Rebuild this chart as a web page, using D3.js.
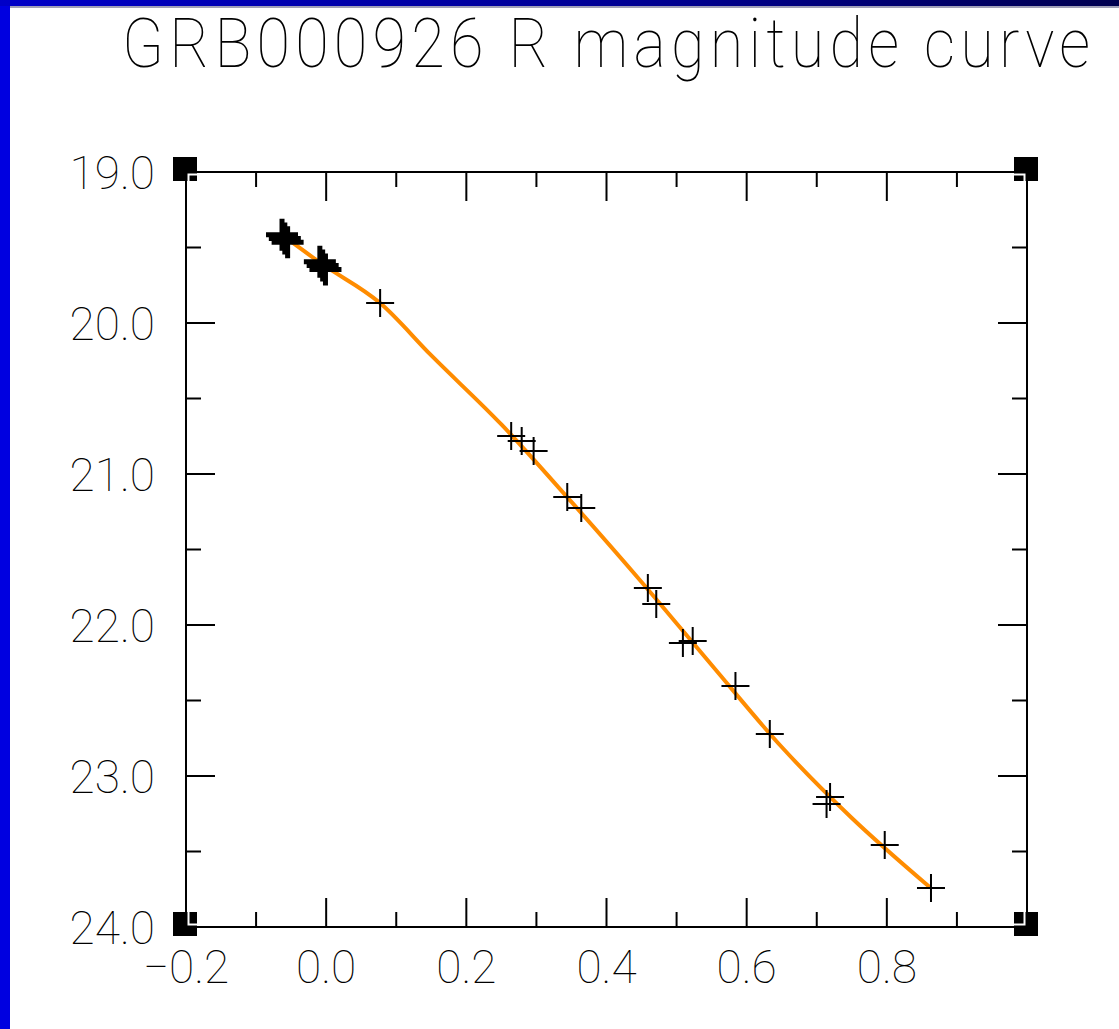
<!DOCTYPE html>
<html>
<head>
<meta charset="utf-8">
<script src="https://cdn.jsdelivr.net/npm/d3@7"></script>
<style>
  html, body { margin: 0; padding: 0; background: #ffffff; }
  svg { display: block; }
</style>
</head>
<body>
<svg id="chart" width="1119" height="1029"></svg>
<script>
// ---- data ----
const title = "GRB000926 R magnitude curve";
const xTickValues = [-0.2, 0.0, 0.2, 0.4, 0.6, 0.8, 1.0];
const xTickLabels = ["\u22120.2", "0.0", "0.2", "0.4", "0.6", "0.8", ""];
const xMinorValues = [-0.1, 0.1, 0.3, 0.5, 0.7, 0.9];
const yTickValues = [19, 20, 21, 22, 23, 24];
const yTickLabels = ["19.0", "20.0", "21.0", "22.0", "23.0", "24.0"];
const yMinorValues = [19.5, 20.5, 21.5, 22.5, 23.5];

// early, heavily overplotted observations (log time, R magnitude)
const earlyX = [-0.063, -0.059, -0.055,
                -0.009, -0.005, -0.001];
const earlyMag = [19.415, 19.440, 19.465,
                  19.595, 19.620, 19.645];
// later observations
const obsX = [0.077, 0.264, 0.279, 0.296, 0.344, 0.364,
              0.459, 0.471, 0.509, 0.523, 0.584, 0.633,
              0.719, 0.714, 0.797, 0.863];
const obsMag = [19.868, 20.748, 20.781, 20.848, 21.152, 21.225,
                21.755, 21.861, 22.119, 22.106, 22.404, 22.722,
                23.139, 23.185, 23.457, 23.742];

// fitted curve
const fitX = [-0.063, -0.006, 0.077, 0.15, 0.25, 0.35, 0.45, 0.55, 0.65, 0.75, 0.861];
const fitMag = [19.417, 19.609, 19.868, 20.215, 20.672, 21.185, 21.715, 22.265, 22.808, 23.278, 23.735];

// ---- layout ----
const svg = d3.select("#chart");
const L = 186, R = 1027, T = 172, B = 927;
const x = d3.scaleLinear().domain([-0.2, 1.0]).range([L, R]);
const y = d3.scaleLinear().domain([19, 24]).range([T, B]);

// slide decorations
const defs = svg.append("defs");
const grad = defs.append("linearGradient").attr("id", "topbar").attr("x1", "0").attr("x2", "1");
grad.append("stop").attr("offset", "0").attr("stop-color", "#0000c8");
grad.append("stop").attr("offset", "0.6").attr("stop-color", "#000090");
grad.append("stop").attr("offset", "1").attr("stop-color", "#000050");
svg.append("rect").attr("x", 0).attr("y", 0).attr("width", 10).attr("height", 1029).attr("fill", "#0000e0");
svg.append("rect").attr("x", 0).attr("y", 0).attr("width", 1119).attr("height", 6).attr("fill", "url(#topbar)");
svg.append("rect").attr("x", 10).attr("y", 6).attr("width", 1109).attr("height", 2).attr("fill", "#a0a0b8");

const font = "Roboto, 'DejaVu Sans', sans-serif";
const W = 100;

// title
const sx = 0.9;
svg.append("g").attr("transform", `translate(122,67) scale(${sx},1)`)
  .append("text")
  .attr("x", 0).attr("y", 0)
  .attr("textLength", 968 / sx).attr("lengthAdjust", "spacing")
  .attr("font-family", font).attr("font-weight", W).attr("font-size", 68)
  .attr("fill", "#000").text(title);

// corner squares
const corners = [[-0.2, 19], [1.0, 19], [-0.2, 24], [1.0, 24]];
svg.selectAll("rect.corner").data(corners).enter().append("rect")
  .attr("class", "corner")
  .attr("x", d => x(d[0]) - 13).attr("y", d => y(d[1]) - 15)
  .attr("width", 24).attr("height", 24).attr("fill", "#000");

// white inset line inside frame
svg.append("rect").attr("x", L + 2.5).attr("y", T + 2.5)
  .attr("width", R - L - 5).attr("height", B - T - 5)
  .attr("fill", "none").attr("stroke", "#fff").attr("stroke-width", 2);

// inward ticks on all four sides
const MAJ = 29, MIN = 15;
const ticks = svg.append("g").attr("stroke", "#000").attr("stroke-width", 2);
function xTicks(vals, len) {
  vals.forEach(v => {
    ticks.append("line").attr("x1", x(v)).attr("x2", x(v)).attr("y1", B).attr("y2", B - len);
    ticks.append("line").attr("x1", x(v)).attr("x2", x(v)).attr("y1", T).attr("y2", T + len);
  });
}
function yTicks(vals, len) {
  vals.forEach(v => {
    ticks.append("line").attr("y1", y(v)).attr("y2", y(v)).attr("x1", L).attr("x2", L + len);
    ticks.append("line").attr("y1", y(v)).attr("y2", y(v)).attr("x1", R).attr("x2", R - len);
  });
}
xTicks(xTickValues, MAJ); xTicks(xMinorValues, MIN);
yTicks(yTickValues, MAJ); yTicks(yMinorValues, MIN);

// tick labels
svg.append("g").selectAll("text").data(xTickValues).enter().append("text")
  .attr("x", d => x(d)).attr("y", B + 56)
  .attr("text-anchor", "middle")
  .attr("font-family", font).attr("font-weight", W).attr("font-size", 46).attr("fill", "#000")
  .text((d, i) => xTickLabels[i]);
svg.append("g").selectAll("text").data(yTickValues).enter().append("text")
  .attr("x", L - 31).attr("y", d => y(d)).attr("dy", "0.36em")
  .attr("text-anchor", "end")
  .attr("font-family", font).attr("font-weight", W).attr("font-size", 46).attr("fill", "#000")
  .text((d, i) => yTickLabels[i]);

// frame
svg.append("rect").attr("x", L).attr("y", T).attr("width", R - L).attr("height", B - T)
  .attr("fill", "none").attr("stroke", "#000").attr("stroke-width", 2);

// fitted curve
const line = d3.line().x(d => x(d[0])).y(d => y(d[1])).curve(d3.curveMonotoneX);
svg.append("path").datum(fitX.map((v, i) => [v, fitMag[i]]))
  .attr("d", line).attr("fill", "none").attr("stroke", "#ff8c00").attr("stroke-width", 4)
  .attr("stroke-linecap", "round");

// observed crosses
const crossPath = "M-14,0H14M0,-14V14";
svg.selectAll("path.early").data(earlyX.map((v, i) => [v, earlyMag[i]])).enter().append("path")
  .attr("class", "early")
  .attr("transform", d => `translate(${x(d[0])},${y(d[1])})`)
  .attr("d", "M-16,0H16M0,-16V16")
  .attr("stroke", "#000").attr("stroke-width", 5).attr("fill", "none");
svg.selectAll("path.obs").data(obsX.map((v, i) => [v, obsMag[i]])).enter().append("path")
  .attr("class", "obs")
  .attr("transform", d => `translate(${x(d[0])},${y(d[1])})`)
  .attr("d", crossPath)
  .attr("stroke", "#000").attr("stroke-width", 2).attr("fill", "none");
</script>
</body>
</html>
